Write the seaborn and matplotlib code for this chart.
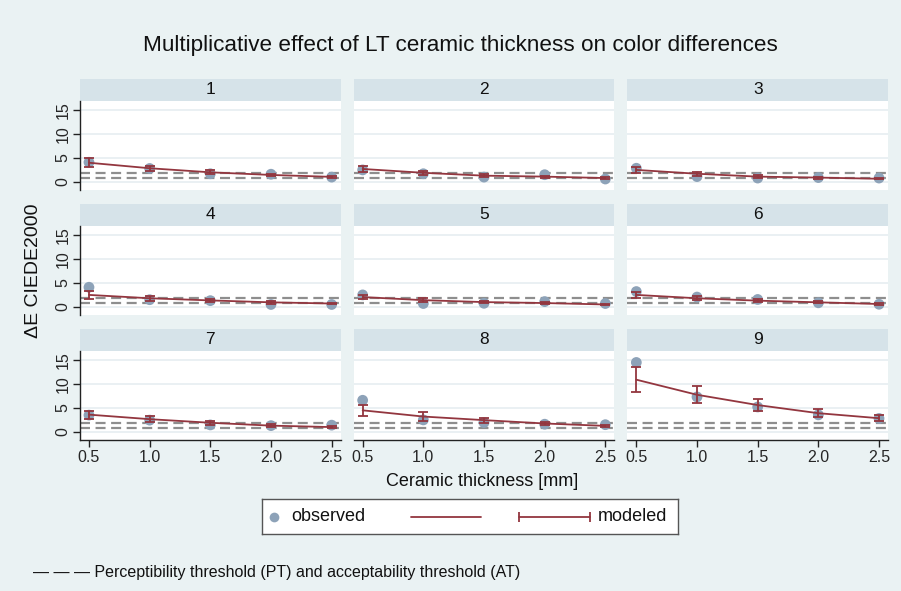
import pandas as pd
import matplotlib
matplotlib.use("Agg")
import matplotlib.pyplot as plt
import seaborn as sns
from matplotlib.patches import Rectangle

# thickness levels (mm) and panel ids
thickness = [0.5, 1.0, 1.5, 2.0, 2.5]
panels = [1, 2, 3, 4, 5, 6, 7, 8, 9]

# observed mean color differences per panel
observed = [
    [4.1, 2.8, 1.7, 1.6, 1.0],
    [2.5, 1.7, 1.0, 1.5, 0.6],
    [2.85, 1.1, 0.8, 0.9, 0.8],
    [4.1, 1.5, 1.3, 0.5, 0.5],
    [2.5, 0.7, 0.75, 1.1, 0.7],
    [3.2, 2.05, 1.55, 0.85, 0.55],
    [3.5, 2.45, 1.45, 1.3, 1.4],
    [6.6, 2.5, 1.95, 1.6, 1.5],
    [14.5, 7.3, 5.2, 3.55, 2.8],
]

# modeled values and half width of the CI
modeled = [
    [4.0, 2.85, 2.0, 1.45, 1.05],
    [2.7, 1.9, 1.3, 1.1, 0.8],
    [2.5, 1.7, 1.1, 0.9, 0.65],
    [2.5, 1.8, 1.35, 0.95, 0.7],
    [2.05, 1.4, 1.0, 0.8, 0.5],
    [2.5, 1.8, 1.3, 0.95, 0.6],
    [3.6, 2.65, 1.9, 1.3, 1.0],
    [4.5, 3.2, 2.45, 1.75, 1.25],
    [10.9, 7.75, 5.6, 3.9, 2.85],
]
ci_half = [
    [0.9, 0.55, 0.4, 0.25, 0.2],
    [0.7, 0.45, 0.3, 0.2, 0.2],
    [0.6, 0.4, 0.3, 0.2, 0.15],
    [0.8, 0.5, 0.35, 0.25, 0.2],
    [0.5, 0.35, 0.25, 0.2, 0.15],
    [0.65, 0.45, 0.3, 0.2, 0.15],
    [0.85, 0.6, 0.4, 0.3, 0.2],
    [1.2, 0.9, 0.5, 0.3, 0.2],
    [2.6, 1.8, 1.25, 0.85, 0.65],
]

# thresholds
PT = 0.8
AT = 1.8

rows = []
for p, o, m, c in zip(panels, observed, modeled, ci_half):
    for t, ov, mv, cv in zip(thickness, o, m, c):
        rows.append({"panel": p, "thickness": t, "observed": ov, "modeled": mv, "ci": cv})
df = pd.DataFrame(rows)

bg = "#EAF2F3"
strip_col = "#D6E3E9"
grid_col = "#E6EEF1"
obs_col = "#8DA2B8"
mod_col = "#93363F"

sns.set_theme(style="white")
plt.rcParams['font.family'] = ['Liberation Sans', 'DejaVu Sans']

fig, axes = plt.subplots(3, 3, figsize=(9.01, 5.91), dpi=100, sharex=True, sharey=True)
fig.patch.set_facecolor(bg)
fig.subplots_adjust(left=80/901, right=888/901, top=1-101/591, bottom=1-440/591,
                    wspace=0.05, hspace=0.404)

for i, ax in enumerate(axes.flat):
    sub = df[df["panel"] == panels[i]]
    ax.set_facecolor("white")
    for v in [0, 5, 10, 15]:
        ax.axhline(v, color=grid_col, lw=1.2, zorder=0)
    for thr in [PT, AT]:
        ax.axhline(thr, color="#8E8E8E", lw=1.6, dashes=(4.5, 2.5), zorder=2)
    sns.scatterplot(data=sub, x="thickness", y="observed", ax=ax, color=obs_col,
                    s=60, edgecolor="none", zorder=3, legend=False)
    sns.lineplot(data=sub, x="thickness", y="modeled", ax=ax, color=mod_col,
                 lw=1.3, zorder=4)
    ax.errorbar(sub["thickness"], sub["modeled"], yerr=sub["ci"], fmt="none",
                ecolor=mod_col, elinewidth=1.3, capsize=3.5, capthick=1.3, zorder=4)
    ax.set_xlabel("")
    ax.set_ylabel("")
    ax.add_patch(Rectangle((0, 1), 1, 22/89, transform=ax.transAxes, clip_on=False,
                           facecolor=strip_col, edgecolor="none"))
    ax.text(0.5, 1 + 11/89, str(panels[i]), transform=ax.transAxes,
            ha="center", va="center", fontsize=12.5, color="#111111")
    for s in ax.spines.values():
        s.set_visible(False)

    r, c = divmod(i, 3)
    if c == 0:
        ax.spines["left"].set_visible(True)
        ax.spines["left"].set_color("#222222")
        ax.spines["left"].set_linewidth(1.0)
        ax.tick_params(axis="y", left=True, length=5, width=1, color="#222222",
                       labelsize=11.5, labelrotation=90, pad=2)
        for lbl in ax.get_yticklabels():
            lbl.set_va("center")
    else:
        ax.tick_params(axis="y", left=False, labelleft=False)
    if r == 2:
        ax.spines["bottom"].set_visible(True)
        ax.spines["bottom"].set_color("#222222")
        ax.spines["bottom"].set_linewidth(1.0)
        ax.tick_params(axis="x", bottom=True, length=5, width=1, color="#222222",
                       labelsize=11.5, pad=2)
    else:
        ax.tick_params(axis="x", bottom=False, labelbottom=False)

axes[0, 0].set_xlim(0.426, 2.574)
axes[0, 0].set_ylim(-1.7, 16.9)
axes[0, 0].set_yticks([0, 5, 10, 15])
axes[0, 0].set_xticks(thickness)
axes[0, 0].set_xticklabels([f"{t:.1f}" for t in thickness])

fig.text(460/901, 1-45/591, "Multiplicative effect of LT ceramic thickness on color differences",
         ha="center", va="center", fontsize=16.2, color="#111111")
fig.text(33/901, 1-271/591, "ΔE CIEDE2000", rotation=90, ha="center", va="center",
         fontsize=14, color="#111111")
fig.text(482/901, 1-482/591, "Ceramic thickness [mm]", ha="center", va="center",
         fontsize=13, color="#111111")

# legend box
lax = fig.add_axes([262/901, 1-534/591, 416/901, 35/591])
lax.set_xlim(0, 416)
lax.set_ylim(0, 35)
lax.set_xticks([])
lax.set_yticks([])
lax.set_facecolor("white")
for s in lax.spines.values():
    s.set_color("#555555")
    s.set_linewidth(1.0)
lax.plot([12], [17.5], "o", color=obs_col, ms=7, mec="none")
lax.text(29, 17.5, "observed", va="center", ha="left", fontsize=13, color="#111111")
lax.plot([149, 219], [17.5, 17.5], color=mod_col, lw=1.3)
lax.plot([257, 328], [17.5, 17.5], color=mod_col, lw=1.3, marker="|", ms=7, mew=1.3)
lax.text(336, 17.5, "modeled", va="center", ha="left", fontsize=13, color="#111111")

fig.text(33/901, 1-573/591, "— — — Perceptibility threshold (PT) and acceptability threshold (AT)",
         ha="left", va="center", fontsize=11.5, color="#111111")

fig.savefig("out.png", dpi=100, facecolor=bg)
